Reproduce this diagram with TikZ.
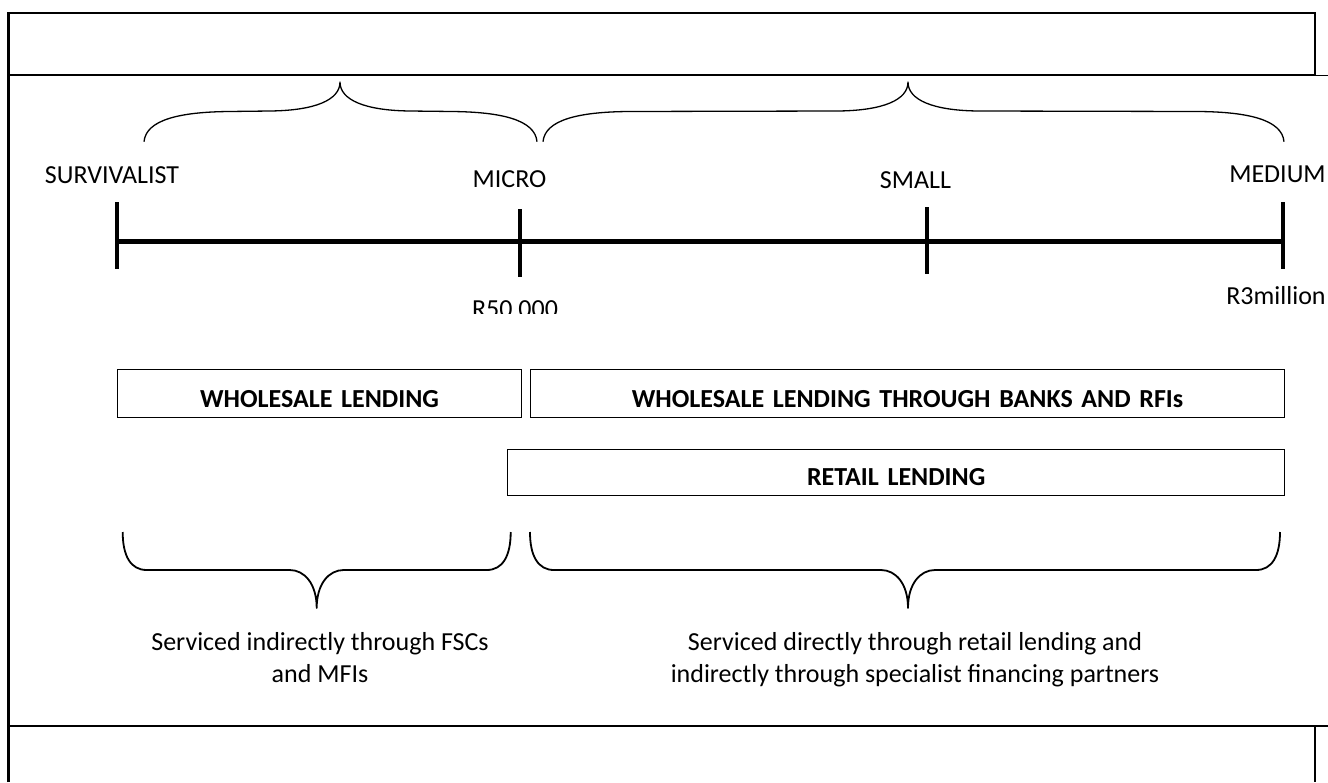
\documentclass[tikz,border=0pt]{standalone}
\usepackage{fontspec}
\setmainfont{Carlito}
\tikzset{
  rule/.style={line width=2.2pt},
  thinrule/.style={line width=1pt},
  axis/.style={line width=5pt},
  tick/.style={line width=4pt},
  tbrace/.style={line width=1.3pt, line join=round},
  bbrace/.style={line width=1.8pt, line join=round},
  lbl/.style={inner sep=0pt, font=\fontsize{26}{32}\selectfont},
  lendbox/.style={draw, line width=1.1pt, inner sep=0pt, anchor=north west,
    font=\fontsize{26}{32}\selectfont\bfseries, text depth=10pt},
  note/.style={inner sep=0pt, align=center, font=\fontsize{26}{32}\selectfont},
}
% brace opening downwards: left x, tip x, right x
\newcommand\capbrace[3]{%
  \draw[tbrace] (#1,141.7) .. controls ({#1+2},120) and ({#1+35},112) .. ({#1+85},111.5)
    -- ({#2-70},111) .. controls ({#2-25},110.5) and (#2,100) .. (#2,82)
    .. controls (#2,100) and ({#2+25},110.5) .. ({#2+70},111)
    -- ({#3-85},111.5) .. controls ({#3-35},112) and ({#3-2},120) .. (#3,141.7);}
% brace opening upwards: left x, tip x, right x
\newcommand\basebrace[3]{%
  \draw[bbrace] (#1,532) .. controls (#1,556) and ({#1+8},570) .. ({#1+24},570)
    -- ({#2-27},570) .. controls ({#2-12},570) and (#2,584) .. (#2,608)
    .. controls (#2,584) and ({#2+12},570) .. ({#2+27},570)
    -- ({#3-24},570) .. controls ({#3-8},570) and (#3,556) .. (#3,532);}
\begin{document}
\begin{tikzpicture}[x=1pt,y=-1pt]
\useasboundingbox (0,0) rectangle (1328,782);

% table frame
\draw[rule] (8.5,782) -- (8.5,13) -- (1315,13) -- (1315,75);
\draw[rule] (8.5,75) -- (1315,75);
\draw[thinrule] (1315,75) -- (1328,75);
\draw[rule] (8.5,726) -- (1328,726);
\draw[rule] (1315,726) -- (1315,782);

% upper braces
\capbrace{144}{340}{537}
\capbrace{543}{908}{1284}

% size scale
\coordinate (t1) at (117.3,241);
\coordinate (t2) at (520.3,241);
\coordinate (t3) at (927,241);
\coordinate (t4) at (1283,241);
\draw[axis] (t1) -- (t4);
\draw[tick] (117.3,202) -- (117.3,269);
\draw[tick] (520.3,209) -- (520.3,277);
\draw[tick] (927,207) -- (927,274);
\draw[tick] (1283,202) -- (1283,269);

\node[lbl, anchor=base] (surv) at (112,183) {SURVIVALIST};
\node[lbl, anchor=base] (micro) at (509.5,187) {MICRO};
\node[lbl, anchor=base] (small) at (915.5,188) {SMALL};
\node[lbl, anchor=base] (medium) at (1277.5,182) {MEDIUM};
\begin{scope}
  \clip (400,290) rectangle (650,313);
  \node[lbl, anchor=base] (r50) at (515,317.4) {R50 000};
\end{scope}
\node[lbl, anchor=base] (r3m) at (1276,304) {R3million};

% lending channels
\node[lendbox, minimum width=403.4pt, text height=37.4pt, text width=403.4pt, align=center]
  (wl) at (117.3,369.3) {WHOLESALE LENDING};
\node[lendbox, minimum width=754pt, text height=37.4pt, text width=754pt, align=center]
  (wlb) at (530,369.3) {WHOLESALE LENDING THROUGH BANKS AND RFIs};
\node[lendbox, minimum width=776.7pt, text height=36pt, text width=776.7pt, align=center]
  (rl) at (507.3,449) {RETAIL LENDING};

% lower braces
\basebrace{122.7}{316.7}{510.7}
\basebrace{530}{908}{1280}

\node[note, anchor=base] (ind) at (320,682) {Serviced indirectly through FSCs\\and MFIs};
\node[note, anchor=base] (dir) at (915,682) {Serviced directly through retail lending and\\indirectly through specialist financing partners};
\end{tikzpicture}
\end{document}
